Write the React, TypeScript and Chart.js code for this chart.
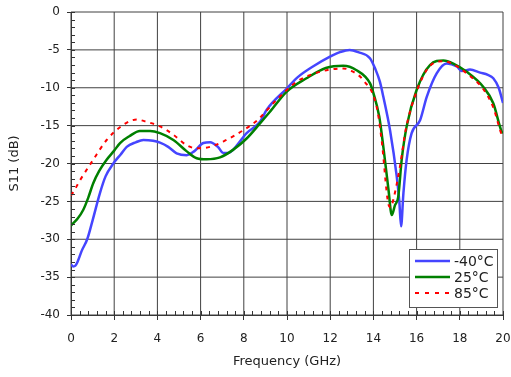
import React, { useEffect, useRef } from 'react';
import { Chart, registerables } from 'chart.js';

Chart.register(...registerables);

const xTicksMax = 20;
const xStep = 2;
const yTicksMin = -40;
const yStep = 5;

const seriesNames = ['-40°C', '25°C', '85°C'];
const seriesColors = ['#4545ff', '#008000', '#ff0000'];

const blueFreq = [0.0, 0.1, 0.2, 0.3, 0.5, 0.75, 1.0, 1.34, 1.6, 1.96, 2.3, 2.58, 3.0, 3.35, 3.8, 4.12, 4.5, 4.89, 5.36, 5.7, 6.13, 6.44, 6.8, 7.05, 7.3, 7.5, 7.98, 8.13, 8.75, 9.06, 9.99, 10.5, 11.2, 11.99, 12.45, 12.9, 13.3, 13.84, 14.1, 14.3, 14.46, 14.77, 15.08, 15.2, 15.28, 15.39, 15.54, 15.77, 16.16, 16.47, 16.93, 17.4, 17.86, 18.1, 18.47, 18.94, 19.3, 19.55, 19.8, 20.0];
const blueS11 = [-33.3, -33.6, -33.5, -33.0, -31.5, -30.0, -27.5, -23.9, -21.7, -20.0, -18.8, -17.8, -17.2, -16.9, -17.0, -17.25, -17.8, -18.65, -18.9, -18.4, -17.3, -17.2, -17.8, -18.6, -18.6, -18.2, -16.5, -16.0, -14.5, -12.9, -10.1, -8.6, -7.2, -5.9, -5.3, -5.0, -5.3, -6.1, -7.6, -9.2, -11.2, -15.6, -21.7, -25.0, -28.3, -23.9, -19.5, -16.0, -14.3, -11.2, -8.1, -6.8, -7.2, -7.8, -7.6, -8.0, -8.3, -8.75, -10.0, -12.0];

const greenFreq = [0.0, 0.1, 0.3, 0.57, 0.8, 1.03, 1.3, 1.65, 2.0, 2.27, 2.7, 3.19, 3.66, 4.12, 4.74, 5.36, 5.82, 6.28, 6.9, 7.5, 8.13, 8.75, 9.2, 9.99, 10.9, 11.8, 12.6, 13.2, 13.84, 14.0, 14.27, 14.46, 14.7, 14.85, 15.0, 15.15, 15.31, 15.54, 16.0, 16.62, 17.24, 17.7, 18.32, 19.09, 19.55, 19.94, 20.0];
const greenS11 = [-28.2, -27.9, -27.3, -26.1, -24.5, -22.6, -21.0, -19.5, -18.3, -17.3, -16.4, -15.7, -15.7, -16.0, -16.9, -18.4, -19.3, -19.45, -19.2, -18.2, -16.7, -14.7, -13.2, -10.5, -8.75, -7.4, -7.1, -7.65, -9.4, -10.7, -13.8, -17.8, -23.5, -26.8, -25.5, -24.4, -19.5, -15.1, -10.3, -7.0, -6.4, -6.8, -7.9, -9.9, -12.05, -15.8, -16.0];

const redFreq = [0.0, 0.08, 0.42, 1.03, 1.65, 2.42, 3.04, 3.5, 4.12, 4.74, 5.36, 5.82, 6.44, 7.05, 7.98, 8.6, 9.52, 10.45, 11.53, 12.6, 13.0, 13.53, 14.15, 14.38, 14.69, 14.8, 14.92, 15.23, 15.5, 16.0, 16.62, 17.24, 17.7, 18.32, 19.09, 19.55, 19.94, 20.0];
const redS11 = [-24.2, -23.9, -22.2, -19.5, -16.9, -14.9, -14.2, -14.5, -15.1, -16.2, -17.6, -18.0, -17.8, -17.1, -15.6, -14.35, -11.6, -9.2, -7.9, -7.45, -7.8, -9.0, -12.5, -16.9, -25.3, -25.8, -24.8, -20.4, -15.5, -10.5, -7.1, -6.5, -6.9, -8.1, -10.2, -12.6, -16.2, -16.5];

const toPoints = (xs: number[], ys: number[]) => xs.map((x, i) => ({ x, y: ys[i] }));

const gridPlugin = {
  id: 'plotGrid',
  beforeDatasetsDraw(chart: any) {
    const ctx = chart.ctx as CanvasRenderingContext2D;
    const area = chart.chartArea;
    const xs = chart.scales.x;
    const ys = chart.scales.y;
    ctx.save();
    ctx.strokeStyle = '#404040';
    ctx.lineWidth = 1;
    ctx.setLineDash([]);
    ctx.beginPath();
    for (let v = 0; v <= xTicksMax + 1e-9; v += xStep) {
      const px = xs.getPixelForValue(v);
      ctx.moveTo(px, area.top);
      ctx.lineTo(px, area.bottom);
    }
    for (let v = yTicksMin; v <= 1e-9; v += yStep) {
      const py = ys.getPixelForValue(v);
      ctx.moveTo(area.left, py);
      ctx.lineTo(area.right, py);
    }
    ctx.stroke();
    ctx.restore();
  },
};

const overlayPlugin = {
  id: 'minorTicksLegend',
  afterDraw(chart: any) {
    const ctx = chart.ctx as CanvasRenderingContext2D;
    const area = chart.chartArea;
    const xs = chart.scales.x;
    const ys = chart.scales.y;

    ctx.save();
    ctx.strokeStyle = '#333';
    ctx.lineWidth = 1;
    ctx.beginPath();
    for (let v = 0; v <= xTicksMax + 1e-9; v += 0.4) {
      const px = Math.round(xs.getPixelForValue(v)) + 0.5;
      ctx.moveTo(px, area.bottom);
      ctx.lineTo(px, area.bottom - 4);
    }
    for (let v = yTicksMin; v <= 1e-9; v += 1) {
      const py = Math.round(ys.getPixelForValue(v)) + 0.5;
      ctx.moveTo(area.left, py);
      ctx.lineTo(area.left + 4, py);
    }
    ctx.stroke();
    ctx.restore();

    const w = 88;
    const h = 58;
    const x = Math.round(area.right - 6 - w);
    const y = Math.round(area.bottom - 8 - h);
    ctx.save();
    ctx.fillStyle = '#ffffff';
    ctx.fillRect(x, y, w, h);
    ctx.strokeStyle = '#555';
    ctx.lineWidth = 1;
    ctx.strokeRect(x + 0.5, y + 0.5, w, h);
    ctx.font = '14px "DejaVu Sans"';
    ctx.textBaseline = 'middle';
    ctx.textAlign = 'left';
    seriesNames.forEach((name, i) => {
      const ly = y + 12 + i * 16;
      ctx.beginPath();
      ctx.strokeStyle = seriesColors[i];
      ctx.lineWidth = i === 2 ? 2 : 2.5;
      ctx.setLineDash(i === 2 ? [4, 6] : []);
      ctx.moveTo(x + 6, ly);
      ctx.lineTo(x + 41, ly);
      ctx.stroke();
      ctx.setLineDash([]);
      ctx.fillStyle = '#222';
      ctx.fillText(name, x + 45, ly + 1);
    });
    ctx.restore();
  },
};

export default function App() {
  const canvasRef = useRef<HTMLCanvasElement | null>(null);

  useEffect(() => {
    document.body.style.margin = '0';
    const canvas = canvasRef.current;
    if (!canvas) return;
    const chart = new Chart(canvas, {
      type: 'line',
      data: {
        datasets: [
          {
            label: seriesNames[0],
            data: toPoints(blueFreq, blueS11),
            borderColor: seriesColors[0],
            borderWidth: 2.5,
            pointRadius: 0,
            cubicInterpolationMode: 'monotone',
            order: 2,
          },
          {
            label: seriesNames[1],
            data: toPoints(greenFreq, greenS11),
            borderColor: seriesColors[1],
            borderWidth: 2.5,
            pointRadius: 0,
            cubicInterpolationMode: 'monotone',
            order: 1,
          },
          {
            label: seriesNames[2],
            data: toPoints(redFreq, redS11),
            borderColor: seriesColors[2],
            borderWidth: 2,
            borderDash: [4, 5],
            pointRadius: 0,
            cubicInterpolationMode: 'monotone',
            order: 0,
          },
        ],
      },
      options: {
        animation: false,
        responsive: true,
        maintainAspectRatio: false,
        layout: { padding: { left: 0, top: 12, right: 8, bottom: 0 } },
        plugins: {
          legend: { display: false },
          tooltip: { enabled: false },
        },
        scales: {
          x: {
            type: 'linear',
            min: 0,
            max: xTicksMax,
            ticks: {
              stepSize: xStep,
              color: '#222',
              font: { family: '"DejaVu Sans"', size: 12 },
              padding: 12,
              maxRotation: 0,
            },
            grid: { color: '#333', lineWidth: 1, tickLength: 5, drawTicks: true, drawOnChartArea: false },
            border: { display: true, color: '#333', width: 1 },
            title: {
              display: true,
              text: 'Frequency (GHz)',
              color: '#222',
              font: { family: '"DejaVu Sans"', size: 13 },
              padding: { top: 0, bottom: 8 },
            },
            afterFit: (scale: any) => {
              scale.height = 62;
              scale.paddingLeft = 0;
              scale.paddingRight = 8;
            },
          },
          y: {
            type: 'linear',
            min: yTicksMin,
            max: 0,
            ticks: {
              stepSize: yStep,
              color: '#222',
              font: { family: '"DejaVu Sans"', size: 12 },
              padding: 7,
            },
            grid: { color: '#333', lineWidth: 1, tickLength: 4, drawTicks: true, drawOnChartArea: false },
            border: { display: true, color: '#333', width: 1 },
            title: {
              display: true,
              text: 'S11 (dB)',
              color: '#222',
              font: { family: '"DejaVu Sans"', size: 13 },
              padding: { top: 7, bottom: 0 },
            },
            afterFit: (scale: any) => {
              scale.width = 71;
              scale.paddingTop = 0;
              scale.paddingBottom = 0;
            },
          },
        },
      },
      plugins: [gridPlugin, overlayPlugin],
    });
    return () => chart.destroy();
  }, []);

  return (
    <div style={{ width: '511px', height: '377px', position: 'relative' }}>
      <canvas ref={canvasRef} />
    </div>
  );
}
